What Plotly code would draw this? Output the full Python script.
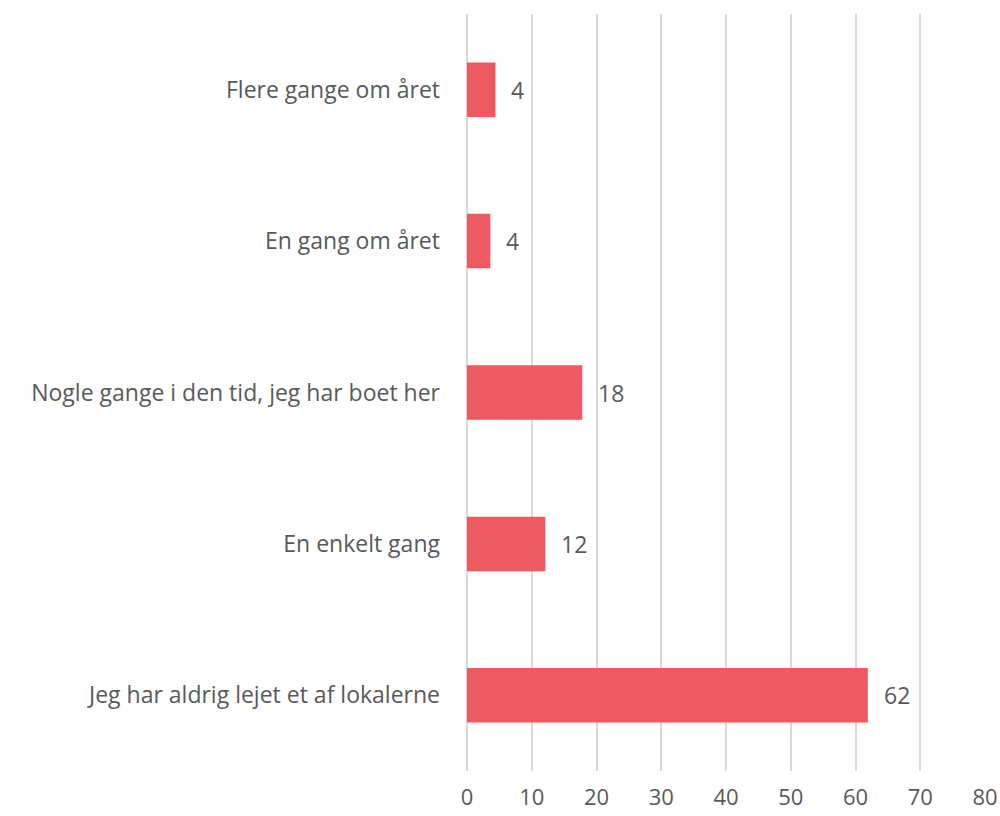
import plotly.graph_objects as go

categories = [
    "Flere gange om året",
    "En gang om året",
    "Nogle gange i den tid, jeg har boet her",
    "En enkelt gang",
    "Jeg har aldrig lejet et af lokalerne",
]
values = [4.4, 3.6, 17.8, 12.1, 61.9]
labels = ["4", "4", "18", "12", "62"]
x_ticks = [0, 10, 20, 30, 40, 50, 60, 70, 80]

bar_color = "#EF5A62"
text_color = "#595959"
grid_color = "#D9D9D9"

fig = go.Figure()
fig.add_trace(go.Bar(
    y=categories,
    x=values,
    orientation="h",
    marker=dict(color=bar_color, line=dict(width=0)),
    width=0.36,
    hoverinfo="skip",
))

# value labels just right of each bar
for cat, val, lab in zip(categories, values, labels):
    fig.add_annotation(
        x=val, y=cat, text=lab, showarrow=False,
        xanchor="left", xshift=14,
        font=dict(family="Open Sans", size=23, color=text_color),
    )

fig.update_layout(
    width=1000, height=816,
    margin=dict(l=467, r=15, t=14, b=45),
    plot_bgcolor="white",
    paper_bgcolor="white",
    showlegend=False,
    font=dict(family="Open Sans", size=23, color=text_color),
)
fig.update_xaxes(
    range=[0, 80],
    tickvals=x_ticks,
    automargin=False,
    showgrid=True, gridcolor=grid_color, gridwidth=2,
    zeroline=True, zerolinecolor=grid_color, zerolinewidth=2,
    showline=False, ticks="",
    ticklabelstandoff=11,
    tickfont=dict(size=22, color=text_color),
)
fig.update_yaxes(
    autorange="reversed",
    automargin=False,
    showgrid=False, zeroline=False, showline=False, ticks="",
    ticklabelstandoff=26,
    tickfont=dict(size=23, color=text_color),
)

# drop the default 8px body margin so the figure fills the window exactly
fig.write_html(
    "out.html",
    config={"displayModeBar": False},
    post_script="document.body.style.margin='0';document.body.style.overflow='hidden';",
)
